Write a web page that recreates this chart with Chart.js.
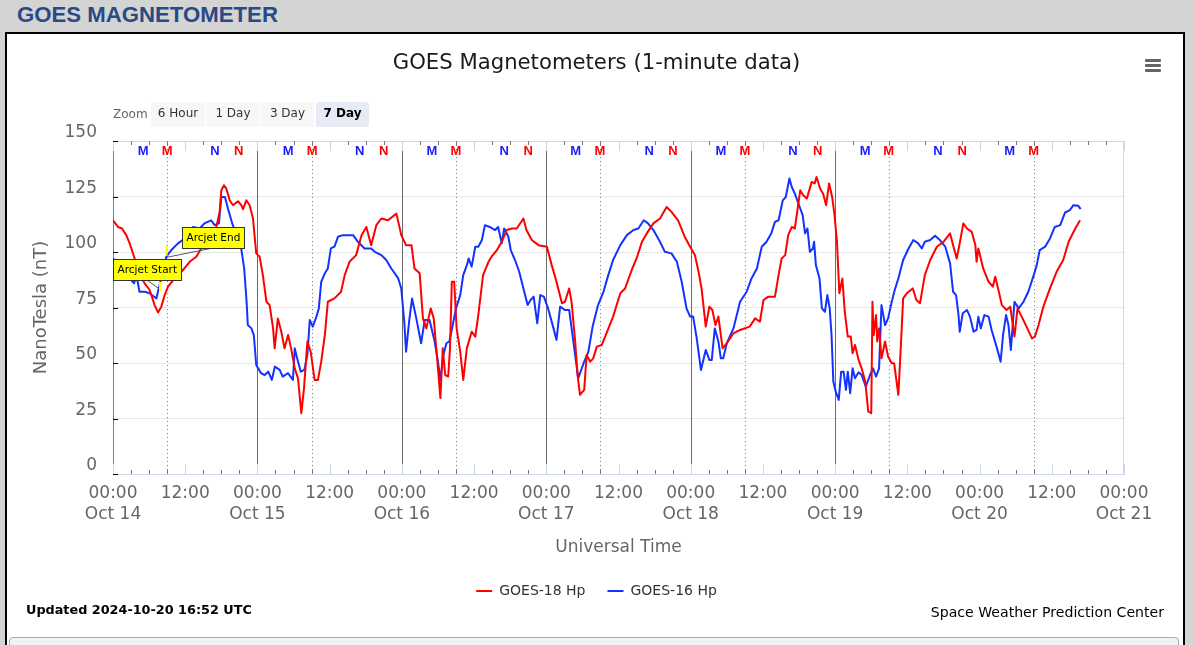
<!DOCTYPE html>
<html><head><meta charset="utf-8">
<script src="https://cdn.jsdelivr.net/npm/chart.js@4.4.1/dist/chart.umd.min.js"></script>
<style>
html,body{margin:0;padding:0;}
body{width:1193px;height:645px;overflow:hidden;background:#d4d4d4;position:relative;font-family:"DejaVu Sans",sans-serif;}
#hdr{position:absolute;left:17px;top:2px;font:bold 22.2px "Liberation Sans",Arial,sans-serif;color:#284a85;line-height:26px;white-space:nowrap;}
#panel{position:absolute;left:5px;top:32px;width:1176px;height:640px;background:#fff;border:2px solid #000;}
#sub{position:absolute;left:9px;top:637px;width:1168px;height:30px;border:1px solid #aaa;border-radius:4px;background:#f2f2f2;}
#c{position:absolute;left:0;top:0;}
.zl{position:absolute;left:113px;top:103px;height:24px;line-height:22px;font-size:12px;color:#666;}
.btn{position:absolute;top:102px;height:25px;line-height:22px;background:#f7f7f7;color:#333;font-size:12px;text-align:center;border-radius:2px;}
.sel{background:#e6ebf5;font-weight:bold;color:#000;}
.bar{position:absolute;left:1145px;width:16px;height:2.6px;background:#666;border-radius:1px;}
#upd{position:absolute;left:26px;top:601px;font-weight:bold;font-size:12.8px;color:#000;line-height:18px;white-space:nowrap;}
#swpc{position:absolute;right:29px;top:603px;font-size:14.1px;color:#000;line-height:18px;white-space:nowrap;}
</style></head>
<body>
<div id="hdr">GOES MAGNETOMETER</div>
<div id="panel"></div>
<div id="sub"></div>
<canvas id="c" width="1193" height="645"></canvas>
<div class="zl">Zoom</div>
<div class="btn" style="left:151px;width:54px">6 Hour</div>
<div class="btn" style="left:206px;width:54px">1 Day</div>
<div class="btn" style="left:261px;width:53px">3 Day</div>
<div class="btn sel" style="left:316px;width:53px">7 Day</div>
<div class="bar" style="top:59px"></div>
<div class="bar" style="top:64px"></div>
<div class="bar" style="top:69px"></div>
<div id="upd">Updated 2024-10-20 16:52 UTC</div>
<div id="swpc">Space Weather Prediction Center</div>
<script>
// ---- data (hours since 2024-10-14 00:00 UT) ----
const dayLabels = ['Oct 14','Oct 15','Oct 16','Oct 17','Oct 18','Oct 19','Oct 20','Oct 21'];
const yTicks = [0,25,50,75,100,125,150];

const g18Hours = [0,0.83,1.5,2.2,2.77,3.6,4.43,5.26,6.09,6.92,7.48,8.03,8.59,9.14,10.25,11.63,12.74,13.85,14.96,16.34,17.17,17.72,18.0,18.44,18.83,19.39,19.94,20.77,21.32,21.6,22.16,22.7,23.26,23.8,24.37,24.9,25.5,26.03,26.6,26.86,27.4,27.97,28.5,29.1,29.6,30.2,30.74,31.3,31.74,32.3,32.85,33.5,34.06,34.6,35.2,35.7,36.8,37.9,38.5,39.3,40.4,41.3,42.1,42.9,43.76,44.6,45.7,47.1,47.9,48.7,49.6,50.1,50.96,51.5,52.07,52.8,53.3,54.0,54.4,54.8,55.2,55.7,56.0,56.3,56.7,57.1,57.7,58.2,58.8,59.6,60.2,60.7,61.5,62.4,62.9,63.8,64.6,65.4,66.3,67.1,68.2,68.7,69.6,70.7,72.1,72.9,73.7,74.6,75.1,75.8,76.2,76.8,77.2,77.6,78.3,78.7,79.3,79.8,80.4,81.2,82.0,83.1,84.3,85.1,86.2,87.0,87.9,88.7,89.8,90.9,92.0,92.8,93.9,95.0,95.9,96.7,97.3,97.8,98.5,99.1,99.6,100.1,100.6,101.3,102.0,103.1,104.2,105.8,106.7,107.5,108.1,108.9,110.0,110.6,111.1,111.7,112.2,112.8,113.3,114.2,114.7,115.3,116.1,116.6,116.9,117.5,118.0,118.5,119.0,119.5,119.9,120.3,120.7,121.2,121.6,122.1,122.6,122.9,123.3,123.9,124.4,125.0,125.5,126.0,126.2,126.4,126.8,127.0,127.3,127.7,128.3,128.8,129.4,129.8,130.5,130.9,131.3,131.9,132.9,133.5,134.1,134.9,135.8,136.9,138.0,139.1,139.6,140.2,140.7,141.3,141.9,142.7,143.3,143.5,143.8,144.6,145.5,146.2,146.6,147.2,147.7,148.5,149.1,149.8,150.3,151.0,151.8,152.7,153.2,153.8,154.6,155.7,156.8,157.9,158.8,159.9,160.7];
const g18Values = [114.3,111.3,110.6,107.6,103.9,97.1,89.6,85.9,82.9,76.1,72.8,75.4,80.6,84.4,88.1,91.9,95.6,97.9,103.1,107.6,111.3,118.1,127.8,130.1,128.6,123.3,121.1,122.9,121.1,119.3,123.3,121.1,115.1,99.4,97.9,89.6,77.6,76.1,65.6,56.6,70.1,64.1,56.6,62.6,56.6,47.6,43.1,27.4,38.7,59.7,55.1,42.4,42.4,50.6,62.6,77.6,79.1,82.1,89.6,95.6,98.6,107.6,111.3,103.1,112.1,115.1,114.3,117.3,107.6,103.1,103.1,92.6,90.4,70.1,65.6,74.6,70.1,47.6,34.2,56.6,44.6,43.9,56.6,86.6,86.6,65.6,55.1,42.4,56.6,64.1,61.9,71.6,89.6,95.6,97.9,100.9,104.6,109.9,110.6,110.6,115.1,109.9,105.4,103.1,102.4,94.1,86.6,76.9,77.6,83.6,77.6,59.7,44.6,35.7,37.9,53.6,50.6,52.1,57.4,58.1,63.4,70.9,81.4,83.6,91.9,97.1,104.6,108.4,112.9,115.1,120.3,118.1,114.3,106.9,102.4,98.6,91.1,83.6,66.4,75.4,73.9,67.1,70.9,56.6,58.9,63.4,64.9,66.4,70.1,68.6,78.4,79.9,79.9,89.6,97.1,98.6,107.6,111.3,110.6,127.8,125.6,124.1,131.6,130.9,133.8,128.6,126.3,121.1,130.9,124.8,116.6,104.6,81.4,88.1,73.1,61.9,61.9,54.4,58.1,51.4,47.6,41.7,28.2,27.4,77.6,62.6,71.6,59.7,65.6,52.1,59.7,52.9,49.9,49.9,35.7,56.6,79.1,81.4,83.6,78.4,76.9,89.6,96.4,102.4,104.6,108.4,103.1,97.1,103.9,112.9,110.6,109.1,103.1,95.6,101.6,92.6,86.6,84.4,88.9,82.1,76.1,73.9,75.4,61.9,74.6,70.9,66.4,61.1,61.9,67.1,75.4,83.6,91.1,96.4,104.6,110.6,114.3];

const g16Hours = [0,0.83,1.9,2.77,3.5,3.9,4.4,5.3,6.1,7.2,7.6,8.86,9.7,10.8,11.9,13.3,14.4,15.2,16.3,16.9,17.6,18.0,18.6,19.1,19.9,20.8,21.3,21.8,22.2,22.4,23.0,23.4,23.8,24.6,25.2,25.8,26.4,26.9,27.7,28.2,29.1,29.9,30.2,30.6,31.2,31.8,32.3,32.7,33.2,33.8,34.2,34.6,35.2,35.7,36.2,36.8,37.4,38.2,39.0,39.9,40.7,41.8,42.9,43.5,44.6,45.4,46.25,47.4,47.9,48.4,48.7,49.2,49.7,50.4,51.2,51.8,52.6,53.45,54.0,54.4,54.9,55.4,55.9,57.0,57.7,58.2,58.8,59.1,59.6,60.2,60.7,61.3,61.8,62.6,63.5,64.0,64.6,65.0,65.7,66.1,66.8,67.5,68.2,68.9,69.4,69.9,70.5,71.0,71.6,72.3,73.2,73.7,74.3,75.1,75.8,76.5,77.3,78.2,79.0,79.7,80.6,81.5,82.3,83.1,84.3,85.4,86.5,87.3,88.2,88.9,89.8,90.9,91.7,92.8,93.7,94.5,95.3,95.9,96.4,97.0,97.7,98.5,99.1,99.5,100.0,100.6,101.0,101.4,102.0,103.1,104.2,105.3,106.1,107.0,107.8,108.6,109.4,110.0,110.6,111.3,111.8,112.4,112.8,113.3,114.2,114.6,115.0,115.4,115.8,116.3,116.5,116.8,117.4,117.8,118.3,118.7,119.1,119.4,119.7,120.1,120.6,121.0,121.4,121.8,122.1,122.5,122.9,123.3,123.9,124.4,125.1,125.8,126.3,126.8,127.3,127.7,128.3,128.8,129.4,129.9,130.5,131.3,132.2,133.0,133.8,134.4,134.9,135.8,136.6,137.4,138.3,139.1,139.6,140.1,140.5,140.7,141.2,141.9,142.4,143.0,143.5,143.8,144.2,144.8,145.5,146.0,146.9,147.5,147.9,148.4,148.8,149.2,149.8,150.5,151.3,152.1,153.0,153.5,154.0,154.9,155.7,156.5,157.4,157.7,158.2,159.0,159.6,160.4,160.8];
const g16Values = [97.1,94.9,92.6,88.1,85.9,89.6,82.1,82.1,81.4,79.1,83.6,97.9,100.9,103.9,106.1,111.3,110.6,112.9,114.3,112.1,112.9,124.8,124.8,119.6,112.1,106.1,101.6,92.6,77.6,67.1,65.6,62.6,49.1,45.4,44.6,46.1,42.4,48.4,46.9,43.9,45.4,42.4,56.6,52.1,46.1,46.9,53.6,69.4,66.4,70.9,74.6,86.6,90.4,92.6,101.6,102.4,106.9,107.6,107.6,107.6,104.6,101.6,101.6,100.1,98.6,96.4,92.6,88.1,83.6,68.6,55.1,68.6,79.1,70.1,58.9,69.4,69.4,59.7,50.6,42.4,53.6,58.9,59.7,74.6,80.6,89.6,94.1,97.1,93.4,102.4,102.4,105.4,112.1,111.3,109.9,111.3,103.9,110.6,106.9,100.9,96.4,91.1,83.6,76.1,78.4,79.9,67.9,80.6,79.9,74.6,65.6,60.4,75.4,73.9,73.9,59.7,43.1,49.9,55.1,66.4,76.1,82.1,89.6,96.4,103.1,107.6,109.9,110.6,114.3,112.9,109.9,104.6,100.1,99.4,95.6,86.6,74.6,70.9,70.9,61.1,46.9,55.9,51.4,51.4,65.6,59.7,52.1,52.1,58.9,65.6,77.6,82.1,88.1,92.6,102.4,104.6,108.5,113.6,114.3,123.3,124.8,133.1,129.3,126.3,119.6,116.6,108.4,110.6,100.1,101.6,104.6,94.1,88.1,74.6,73.1,80.6,74.6,62.6,41.7,37.1,33.4,46.1,46.1,37.9,46.1,36.4,47.6,43.1,45.8,44.6,39.4,44.6,47.6,43.9,47.6,76.1,67.1,70.1,77.6,82.9,88.1,96.4,101.6,105.4,103.9,101.6,104.6,105.4,107.3,105.4,102.4,94.9,82.1,80.6,71.6,64.1,72.4,73.9,70.9,64.1,64.9,70.9,65.6,71.6,70.9,64.9,56.6,50.6,62.6,71.6,67.1,55.9,77.6,74.6,77.6,82.1,89.6,94.1,100.9,102.4,106.1,111.3,112.1,114.3,117.8,118.9,121.1,120.8,119.3];

// UT midnights drawn as solid lines, GOES-18 local midnight as dotted lines
const dayLineHours = [24,48,72,96,120];
const g18MidnightHours = [9,33.1,57,80.9,105,128.9,153];
// local midnight (M) / noon (N) markers
const g16MHours = [5,29.1,53,76.9,101,125,149];
const g18MHours = [9,33.1,57,80.9,105,128.9,153];
const g16NHours = [16.95,41,65,89.1,113,137.1];
const g18NHours = [20.9,45,69,93.05,117.1,141.1];
// annotations
const arcjetHours = [7.6, 8.9];
const arcjetValues = [83.6, 97.6];
const arcjetTexts = ['Arcjet Start', 'Arcjet End'];

const RED = '#ff0000', BLUE = '#1432ff';
const FONT = '"DejaVu Sans", sans-serif';

const decor = {
  id: 'decor',
  beforeDatasetsDraw(chart) {
    const {ctx, chartArea: a, scales: {x}} = chart;
    ctx.save();
    ctx.lineWidth = 1;
    ctx.strokeStyle = '#6a6a6a';
    dayLineHours.forEach(h => {
      const px = Math.round(x.getPixelForValue(h)) + 0.5;
      ctx.beginPath(); ctx.moveTo(px, a.top); ctx.lineTo(px, a.bottom); ctx.stroke();
    });
    ctx.setLineDash([1, 3]);
    ctx.strokeStyle = '#777';
    g18MidnightHours.forEach(h => {
      const px = Math.round(x.getPixelForValue(h)) + 0.5;
      ctx.beginPath(); ctx.moveTo(px, a.top); ctx.lineTo(px, a.bottom); ctx.stroke();
    });
    ctx.restore();
  },
  afterDraw(chart) {
    const {ctx, chartArea: a, scales: {x, y}} = chart;
    ctx.save();
    // plot frame (top, right) light blue
    ctx.strokeStyle = '#ccd6eb'; ctx.lineWidth = 1;
    ctx.beginPath();
    ctx.moveTo(a.left, Math.round(a.top) + 0.5); ctx.lineTo(a.right, Math.round(a.top) + 0.5);
    ctx.moveTo(Math.round(a.right) - 0.5, a.top); ctx.lineTo(Math.round(a.right) - 0.5, a.bottom);
    ctx.stroke();
    // x ticks every 3 h on bottom and top (inside)
    for (let h = 0; h <= 168; h += 3) {
      const px = Math.round(x.getPixelForValue(h)) + 0.5;
      const major = h % 12 === 0;
      const len = major ? 10 : 4;
      ctx.strokeStyle = major ? '#ccd6eb' : '#777';
      ctx.beginPath();
      ctx.moveTo(px, a.bottom); ctx.lineTo(px, a.bottom - len);
      ctx.moveTo(px, a.top); ctx.lineTo(px, a.top + len);
      ctx.stroke();
    }
    // y ticks (inside, black)
    ctx.strokeStyle = '#000';
    yTicks.forEach(v => {
      const py = Math.round(y.getPixelForValue(v)) + 0.5;
      ctx.beginPath(); ctx.moveTo(a.left, py); ctx.lineTo(a.left + 5, py); ctx.stroke();
    });
    // M / N markers
    ctx.font = 'bold 13px "Liberation Sans", Arial, sans-serif';
    ctx.textAlign = 'center'; ctx.textBaseline = 'middle';
    const ly = a.top + 10;
    const mark = (arr, txt, col) => { ctx.fillStyle = col; arr.forEach(h => ctx.fillText(txt, x.getPixelForValue(h), ly)); };
    mark(g16MHours, 'M', '#1a1aff');
    mark(g18MHours, 'M', '#ff0000');
    mark(g16NHours, 'N', '#1a1aff');
    mark(g18NHours, 'N', '#ff0000');
    // arcjet annotations
    ctx.font = '10.5px ' + FONT;
    ctx.textAlign = 'left';
    arcjetHours.forEach((h, i) => {
      const px = x.getPixelForValue(h), py = y.getPixelForValue(arcjetValues[i]);
      const o = i === 0 ? {dx: -46, dy: -29.5, lx: 34, m1: -6.5, m2: 2.5, mx: 1.3} : {dx: 15.4, dy: -30.5, lx: 28, m1: -11.5, m2: -1.5, mx: 0};
      const tw = ctx.measureText(arcjetTexts[i]).width;
      const bw = Math.round(tw + 8), bh = 21;
      const bx = Math.round(px + o.dx) + 0.5, by = Math.round(py + o.dy) + 0.5;
      ctx.strokeStyle = '#555'; ctx.lineWidth = 1;
      ctx.beginPath(); ctx.moveTo(px, py); ctx.lineTo(bx + o.lx, by + bh); ctx.stroke();
      ctx.strokeStyle = '#ffff00'; ctx.lineWidth = 2;
      ctx.beginPath(); ctx.moveTo(px + o.mx, py + o.m1); ctx.lineTo(px + o.mx, py + o.m2); ctx.stroke();
      ctx.fillStyle = '#ffff00'; ctx.fillRect(bx, by, bw, bh);
      ctx.strokeStyle = '#333'; ctx.lineWidth = 1; ctx.strokeRect(bx, by, bw, bh);
      ctx.fillStyle = '#000'; ctx.textBaseline = 'middle';
      ctx.fillText(arcjetTexts[i], bx + 4, by + bh / 2 + 0.5);
    });
    ctx.restore();
  }
};

const pts = (hs, vs) => hs.map((h, i) => ({x: h, y: vs[i]}));

new Chart(document.getElementById('c'), {
  type: 'line',
  data: {
    datasets: [
      {label: 'GOES-18 Hp', data: pts(g18Hours, g18Values), borderColor: RED, backgroundColor: RED, borderWidth: 2, pointRadius: 0, pointStyle: 'line', tension: 0, borderJoinStyle: 'round'},
      {label: 'GOES-16 Hp', data: pts(g16Hours, g16Values), borderColor: BLUE, backgroundColor: BLUE, borderWidth: 2, pointRadius: 0, pointStyle: 'line', tension: 0, borderJoinStyle: 'round'}
    ]
  },
  options: {
    responsive: false, animation: false, devicePixelRatio: 1,
    layout: {padding: {top: 0, left: 0, right: 0, bottom: 37}},
    plugins: {
      title: {display: true, text: 'GOES Magnetometers (1-minute data)', color: '#1a1a1a',
        font: {family: FONT, size: 21.2, weight: 'normal'}, padding: {top: 51, bottom: 64.6}},
      legend: {position: 'bottom', labels: {usePointStyle: true, pointStyleWidth: 16, padding: 22, color: '#333', font: {family: FONT, size: 14}}},
      tooltip: {enabled: false}
    },
    scales: {
      x: {type: 'linear', min: 0, max: 168,
        afterFit(s) { s.height = 88; },
        ticks: {stepSize: 12, autoSkip: false, maxRotation: 0, padding: 9.5, color: '#666', font: {family: FONT, size: 17},
          callback(v) { return v % 24 === 0 ? ['00:00', dayLabels[v / 24]] : '12:00'; }},
        grid: {display: true, drawOnChartArea: false, drawTicks: false},
        border: {color: '#ccd6eb', width: 1},
        title: {display: true, text: 'Universal Time', color: '#666', font: {family: FONT, size: 17}, padding: {top: 0, bottom: 4}}
      },
      y: {type: 'linear', min: 0, max: 150,
        afterFit(s) { s.width = 113; },
        afterBuildTicks(s) { s.ticks = yTicks.map(v => ({value: v})); },
        ticks: {padding: 16, labelOffset: -8, color: '#666', font: {family: FONT, size: 17}},
        grid: {color: '#e6e6e6', drawTicks: false},
        border: {color: '#808080', width: 1},
        title: {display: true, text: 'NanoTesla (nT)', color: '#666', font: {family: FONT, size: 18}, padding: {top: 31, bottom: 0}}
      },
      yR: {type: 'linear', position: 'right', min: 0, max: 1,
        afterFit(s) { s.width = 69; },
        ticks: {display: false}, grid: {display: false}, border: {display: false}}
    }
  },
  plugins: [decor]
});
</script>
</body></html>
